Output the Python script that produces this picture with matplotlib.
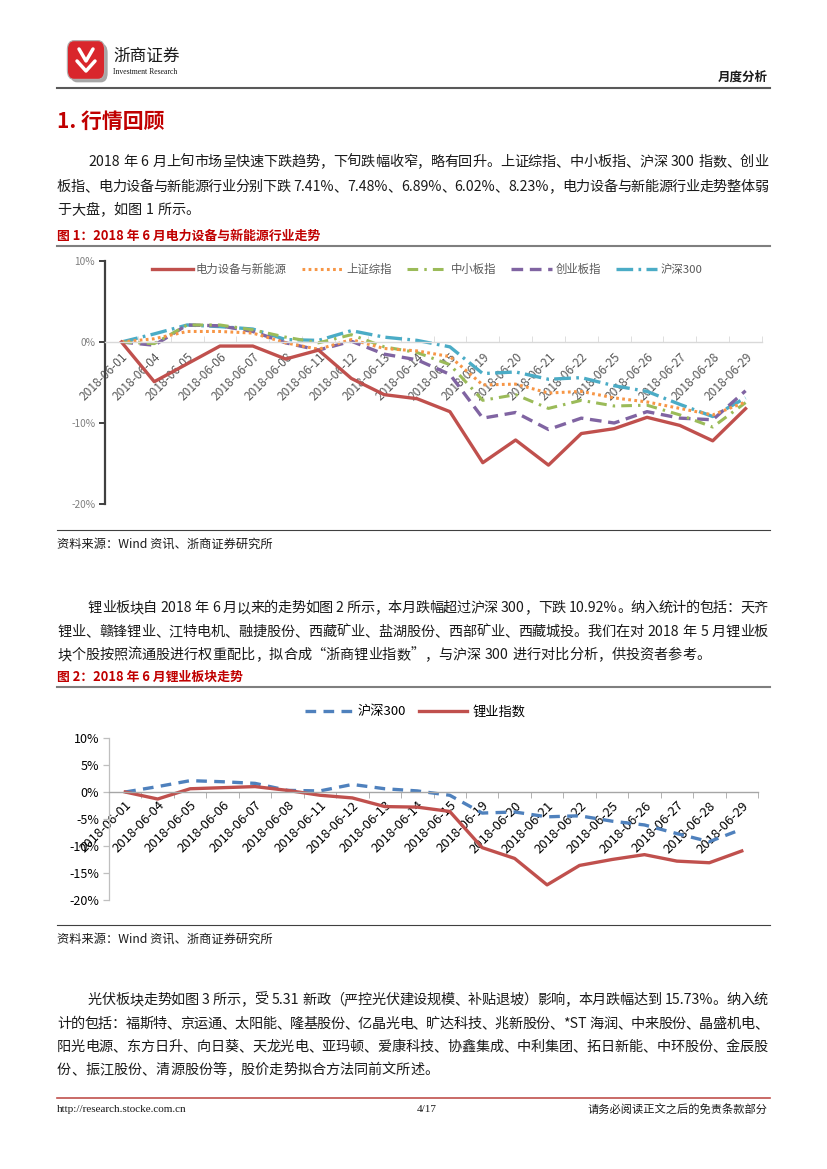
import re
import numpy as np
import matplotlib
matplotlib.use("Agg")
import matplotlib.pyplot as plt
from matplotlib.patches import FancyBboxPatch
from matplotlib.lines import Line2D
from matplotlib.ticker import FuncFormatter, FixedLocator

plt.rcParams["font.family"] = ["Noto Sans CJK SC", "DejaVu Sans"]

# ----------------------------
# Data
# ----------------------------
DATES = ["2018-06-01", "2018-06-04", "2018-06-05", "2018-06-06", "2018-06-07",
         "2018-06-08", "2018-06-11", "2018-06-12", "2018-06-13", "2018-06-14",
         "2018-06-15", "2018-06-19", "2018-06-20", "2018-06-21", "2018-06-22",
         "2018-06-25", "2018-06-26", "2018-06-27", "2018-06-28", "2018-06-29"]

POWER   = [0, -4.9, -2.7, -0.5, -0.5, -2.1, -1.0, -4.5, -6.5, -7.0,
           -8.6, -14.9, -12.1, -15.2, -11.3, -10.7, -9.3, -10.3, -12.2, -8.23]
SH_COMP = [0, 0.4, 1.3, 1.3, 1.1, -0.1, -0.9, 0.3, -0.8, -1.1,
           -1.8, -5.3, -5.2, -6.3, -6.1, -6.9, -7.4, -8.2, -9.0, -7.41]
SME     = [0, -0.2, 2.1, 2.1, 1.5, 0.6, -0.1, 0.9, -0.6, -1.3,
           -2.8, -7.2, -6.5, -8.2, -7.2, -7.9, -7.8, -9.0, -10.5, -7.48]
GEM     = [0, -0.4, 2.1, 2.0, 1.3, -0.1, -1.0, 0.1, -1.5, -2.2,
           -4.0, -9.4, -8.7, -10.8, -9.4, -10.0, -8.6, -9.4, -9.6, -6.02]
HS300   = [0, 1.0, 2.1, 1.9, 1.6, 0.3, 0.2, 1.4, 0.6, 0.2,
           -0.6, -3.9, -3.7, -4.6, -4.4, -5.4, -6.1, -7.7, -9.2, -6.89]
LITHIUM = [0, -1.3, 0.6, 0.8, 1.0, 0.3, -0.6, -1.1, -2.7, -2.8,
           -3.6, -10.3, -12.3, -17.2, -13.6, -12.5, -11.6, -12.8, -13.1, -10.92]

NAMES1 = ["电力设备与新能源", "上证综指", "中小板指", "创业板指", "沪深300"]
NAMES2 = ["沪深300", "锂业指数"]
YTICKS1 = [-20, -10, 0, 10]
YTICKS2 = [-20, -15, -10, -5, 0, 5, 10]

PARA1 = ["2018 年 6 月上旬市场呈快速下跌趋势，下旬跌幅收窄，略有回升。上证综指、中小板指、沪深 300 指数、创业",
         "板指、电力设备与新能源行业分别下跌 7.41%、7.48%、6.89%、6.02%、8.23%，电力设备与新能源行业走势整体弱",
         "于大盘，如图 1 所示。"]
PARA2 = ["锂业板块自 2018 年 6 月以来的走势如图 2 所示，本月跌幅超过沪深 300，下跌 10.92%。纳入统计的包括：天齐",
         "锂业、赣锋锂业、江特电机、融捷股份、西藏矿业、盐湖股份、西部矿业、西藏城投。我们在对 2018 年 5 月锂业板",
         "块个股按照流通股进行权重配比，拟合成“浙商锂业指数”，与沪深 300 进行对比分析，供投资者参考。"]
PARA3 = ["光伏板块走势如图 3 所示，受 5.31 新政（严控光伏建设规模、补贴退坡）影响，本月跌幅达到 15.73%。纳入统",
         "计的包括：福斯特、京运通、太阳能、隆基股份、亿晶光电、旷达科技、兆新股份、*ST 海润、中来股份、晶盛机电、",
         "阳光电源、东方日升、向日葵、天龙光电、亚玛顿、爱康科技、协鑫集成、中利集团、拓日新能、中环股份、金辰股",
         "份、振江股份、清源股份等，股价走势拟合方法同前文所述。"]

# ----------------------------
# Page helpers
# ----------------------------
W, H = 827, 1169
RED = "#C00000"
BODY = 10.2

fig = plt.figure(figsize=(W / 100, H / 100), dpi=100)
renderer = fig.canvas.get_renderer()


def fx(x):
    return x / W


def fy(y):
    return 1 - y / H


def txt(x, y, s, **kw):
    kw.setdefault("va", "center")
    return fig.text(fx(x), fy(y), s, **kw)


def hline(y, x0=57, x1=770, color="#7F7F7F", lw=1.2):
    fig.add_artist(Line2D([fx(x0), fx(x1)], [fy(y), fy(y)], color=color, lw=lw))


def justify(x0, x1, y, line, size, last=False):
    toks = re.findall(r"[A-Za-z0-9.%*/]+| |.", line)
    widths = []
    for t in toks:
        if t == " ":
            widths.append(size * 100 / 72 * 0.28)
            continue
        tt = fig.text(0, 0, t, fontsize=size)
        widths.append(tt.get_window_extent(renderer).width)
        tt.remove()
    gap = 0 if last else (x1 - x0 - sum(widths)) / max(len(toks) - 1, 1)
    x = x0
    for t, w in zip(toks, widths):
        if t != " ":
            txt(x, y, t, fontsize=size, color="#1A1A1A")
        x += w + gap


def paragraph(lines, ys):
    for i, (line, y) in enumerate(zip(lines, ys)):
        x0 = 88 if i == 0 else 57
        justify(x0, 768, y, line, BODY, last=(i == len(lines) - 1))


# ----------------------------
# Header
# ----------------------------
fig.add_artist(FancyBboxPatch((fx(72), fy(80)), fx(34), 34 / H,
                              boxstyle="round,pad=0.002,rounding_size=0.008",
                              fc="#A6A6A6", ec="none"))
fig.add_artist(FancyBboxPatch((fx(69), fy(77)), fx(34), 34 / H,
                              boxstyle="round,pad=0.002,rounding_size=0.008",
                              fc="#D9262C", ec="#B0B0B0", lw=0.8))
fig.add_artist(Line2D([fx(79), fx(86), fx(93)], [fy(49), fy(61), fy(49)],
                      color="white", lw=2.5, solid_capstyle="round"))
fig.add_artist(Line2D([fx(77), fx(86), fx(95)], [fy(61), fy(71), fy(61)],
                      color="white", lw=2.5, solid_capstyle="round"))
txt(113, 56, "浙商证券", fontsize=12, color="#1A1A1A")
txt(113, 72, "Investment Research", fontsize=5.6, color="#1A1A1A",
    family="Liberation Serif")
txt(768, 77, "月度分析", fontsize=9, fontweight="bold", ha="right", color="#1A1A1A")
hline(88, color="#595959", lw=1.5)

txt(57, 121, "1. 行情回顾", fontsize=15, fontweight="bold", color=RED)
paragraph(PARA1, [162, 187, 210])

txt(57, 236, "图 1：2018 年 6 月电力设备与新能源行业走势", fontsize=9.3,
    fontweight="bold", color=RED)
hline(246, color="#7F7F7F", lw=1.5)

# ----------------------------
# Chart 1
# ----------------------------
x = np.arange(len(DATES))
ax1 = fig.add_axes([fx(105), fy(504), (762 - 105) / W, (504 - 261) / H])
styles1 = [
    dict(color="#C0504D", lw=2.4, ls="-"),
    dict(color="#F79646", lw=2.2, ls=(0, (0.9, 1.1))),
    dict(color="#9BBB59", lw=2.2, ls=(0, (3.5, 2, 0.8, 2))),
    dict(color="#8064A2", lw=2.4, ls=(0, (3.5, 2))),
    dict(color="#4BACC6", lw=2.4, ls=(0, (5, 1.6, 0.8, 1.6))),
]
series1 = [POWER, SH_COMP, SME, GEM, HS300]
order = [4, 3, 2, 1, 0]
handles = {}
for i in order:
    (h,) = ax1.plot(x, series1[i], label=NAMES1[i], **styles1[i])
    handles[i] = h
ax1.set_xlim(-0.5, len(DATES) - 0.5)
ax1.set_ylim(-20, 10)
ax1.set_yticks(YTICKS1)
ax1.yaxis.set_major_formatter(FuncFormatter(lambda v, p: f"{v:.0f}%"))
for s in ["top", "right"]:
    ax1.spines[s].set_visible(False)
ax1.spines["left"].set_color("#404040")
ax1.spines["left"].set_linewidth(1.6)
ax1.spines["bottom"].set_position(("data", 0))
ax1.spines["bottom"].set_color("#D9D9D9")
ax1.spines["bottom"].set_linewidth(1.0)
ax1.set_xticks(x)
ax1.set_xticklabels(DATES, rotation=45, ha="right", rotation_mode="anchor",
                    fontsize=8.6, color="#595959")
ax1.xaxis.set_minor_locator(FixedLocator(np.arange(-0.5, len(DATES), 1)))
ax1.tick_params(axis="x", which="major", length=0, pad=6)
ax1.tick_params(axis="x", which="minor", length=4, color="#D9D9D9", direction="in")
ax1.tick_params(axis="y", length=4, width=1.4, color="#404040",
                labelsize=7.3, labelcolor="#7F7F7F", pad=3)
ax1.patch.set_alpha(0)
ax1.legend([handles[i] for i in range(5)], NAMES1, loc="upper center",
           bbox_to_anchor=(0.49, 1.03), ncol=5, frameon=False, fontsize=8.2,
           labelcolor="#595959", handlelength=3.6, columnspacing=1.3,
           handletextpad=0.3)

hline(530, color="#404040", lw=0.8)
txt(57, 544, "资料来源：Wind 资讯、浙商证券研究所", fontsize=8.8, color="#1A1A1A")

# ----------------------------
# Paragraph 2 and chart 2
# ----------------------------
paragraph(PARA2, [608, 632, 655])
txt(57, 677, "图 2：2018 年 6 月锂业板块走势", fontsize=9.3, fontweight="bold", color=RED)
hline(687, color="#7F7F7F", lw=1.5)

ax2 = fig.add_axes([fx(109), fy(900), (758 - 109) / W, (900 - 738) / H])
h_hs, = ax2.plot(x, HS300, color="#4F81BD", lw=2.4, ls=(0, (3.2, 2.2)))
h_li, = ax2.plot(x, LITHIUM, color="#C0504D", lw=2.4)
ax2.set_xlim(-0.5, len(DATES) - 0.5)
ax2.set_ylim(-20, 10)
ax2.set_yticks(YTICKS2)
ax2.yaxis.set_major_formatter(FuncFormatter(lambda v, p: f"{v:.0f}%"))
for s in ["top", "right"]:
    ax2.spines[s].set_visible(False)
ax2.spines["left"].set_color("#BFBFBF")
ax2.spines["left"].set_linewidth(0.9)
ax2.spines["bottom"].set_position(("data", 0))
ax2.spines["bottom"].set_color("#A6A6A6")
ax2.spines["bottom"].set_linewidth(1.0)
ax2.set_xticks(x)
ax2.set_xticklabels(DATES, rotation=45, ha="right", rotation_mode="anchor",
                    fontsize=9.4, color="black")
ax2.xaxis.set_minor_locator(FixedLocator(np.arange(-0.5, len(DATES), 1)))
ax2.tick_params(axis="x", which="major", length=0, pad=5)
ax2.tick_params(axis="x", which="minor", length=4, color="#A6A6A6", direction="out")
ax2.tick_params(axis="y", length=4, width=0.9, color="#BFBFBF",
                labelsize=9, labelcolor="black", pad=3)
ax2.patch.set_alpha(0)
fig.legend([h_hs, h_li], NAMES2, loc="center", bbox_to_anchor=(fx(415), fy(712)),
           ncol=2, frameon=False, fontsize=9.5, handlelength=3.6,
           columnspacing=1.0, handletextpad=0.4)

hline(925, color="#404040", lw=0.8)
txt(57, 939, "资料来源：Wind 资讯、浙商证券研究所", fontsize=8.8, color="#1A1A1A")

# ----------------------------
# Paragraph 3 and footer
# ----------------------------
paragraph(PARA3, [1000, 1024, 1047, 1070])

hline(1098, color="#C0504D", lw=1.2)
txt(57, 1110, "http://research.stocke.com.cn", fontsize=8, color="#1A1A1A",
    family="Liberation Serif")
txt(427, 1110, "4/17", fontsize=8, ha="center", color="#1A1A1A",
    family="Liberation Serif")
txt(768, 1110, "请务必阅读正文之后的免责条款部分", fontsize=8.1, ha="right", color="#1A1A1A")

fig.savefig("out.png", dpi=100)
